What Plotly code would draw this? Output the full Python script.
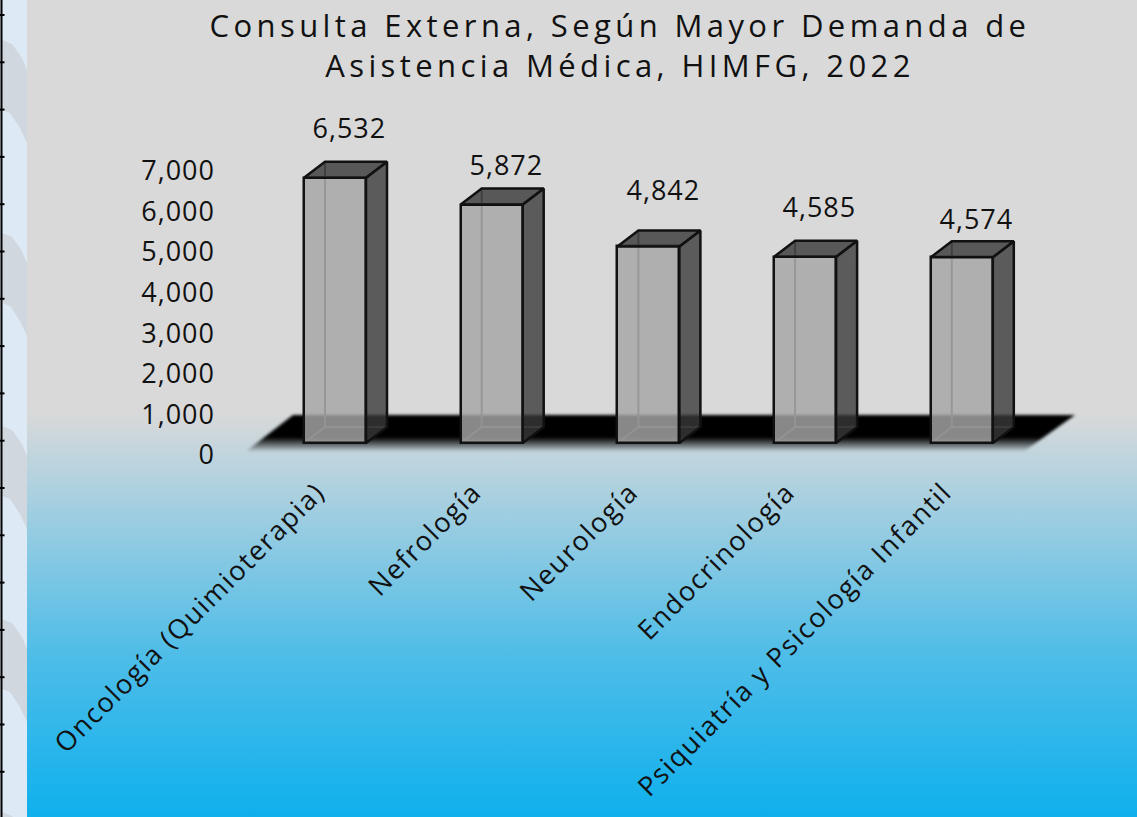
import base64
import plotly.graph_objects as go

# ---------------- data ----------------
categories = [
    "Oncología (Quimioterapia)",
    "Nefrología",
    "Neurología",
    "Endocrinología",
    "Psiquiatría y Psicología Infantil",
]
values = [6532, 5872, 4842, 4585, 4574]
y_ticks = [0, 1000, 2000, 3000, 4000, 5000, 6000, 7000]
title_text = "Consulta Externa, Según Mayor Demanda de<br>Asistencia Médica, HIMFG, 2022"

# ---------------- layout constants (pixels) ----------------
W, H = 1137, 817
FONT = "Open Sans"
PX_PER_X = 156.7          # pixels per category step
X0_PX = 335.0             # pixel centre of first category
PX_PER_Y = 40.6 / 1000    # pixels per unit of value
Y0_PX = 443.0             # pixel of value 0 (front face base)
DOM_X = (230, 1090)
DOM_Y = (100, 470)        # top, bottom in pixels

x_range = [(DOM_X[0] - X0_PX) / PX_PER_X, (DOM_X[1] - X0_PX) / PX_PER_X]
y_range = [(Y0_PX - DOM_Y[1]) / PX_PER_Y, (Y0_PX - DOM_Y[0]) / PX_PER_Y]

BAR_W = 62 / PX_PER_X     # front face width in x units
DX = 21 / PX_PER_X        # depth offset in x units
DY = 16 / PX_PER_Y        # depth offset in value units
label_yshift = [34, 24, 41, 34, 23]

positions = list(range(len(categories)))


def svg_uri(svg):
    return "data:image/svg+xml;base64," + base64.b64encode(svg.encode("utf-8")).decode("ascii")


# background gradient (chart area from x=27)
BG_X = 27
bg_svg = (
    f"<svg xmlns='http://www.w3.org/2000/svg' width='{W-BG_X}' height='{H}' viewBox='0 0 {W-BG_X} {H}' preserveAspectRatio='none'>"
    "<defs><linearGradient id='g' x1='0' y1='0' x2='0' y2='1'>"
    "<stop offset='0' stop-color='#d9d9d9'/>"
    "<stop offset='0.505' stop-color='#d9d9d9'/>"
    "<stop offset='0.565' stop-color='#bdd4de'/>"
    "<stop offset='0.80' stop-color='#4fbde8'/>"
    "<stop offset='1' stop-color='#0fb0ed'/>"
    "</linearGradient></defs>"
    f"<rect width='{W-BG_X}' height='{H}' fill='url(#g)'/></svg>"
)

# floor (dark slab under bars)
FL_X0, FL_Y0, FL_W, FL_H = 238, 409, 842, 50
floor_svg = (
    f"<svg xmlns='http://www.w3.org/2000/svg' width='{FL_W}' height='{FL_H}' viewBox='0 0 {FL_W} {FL_H}' preserveAspectRatio='none'>"
    "<defs><linearGradient id='f' x1='0' y1='0' x2='0' y2='1'>"
    "<stop offset='0' stop-color='#000' stop-opacity='1'/>"
    "<stop offset='0.6' stop-color='#000' stop-opacity='1'/>"
    "<stop offset='1' stop-color='#000' stop-opacity='0'/>"
    "</linearGradient>"
    "<filter id='b' x='-5%' y='-30%' width='110%' height='160%'><feGaussianBlur stdDeviation='1.6'/></filter></defs>"
    "<polygon points='55,6 837,6 785,43 7,43' fill='url(#f)' filter='url(#b)'/></svg>"
)

images = [
    dict(source=svg_uri(bg_svg), xref="paper", yref="paper", x=BG_X / W, y=1,
         sizex=(W - BG_X) / W, sizey=1, xanchor="left", yanchor="top",
         sizing="stretch", layer="below"),
    dict(source=svg_uri(floor_svg), xref="paper", yref="paper", x=FL_X0 / W, y=1 - FL_Y0 / H,
         sizex=FL_W / W, sizey=FL_H / H, xanchor="left", yanchor="top",
         sizing="stretch", layer="below"),
]

shapes = []
# left strip decoration (curved grey bands)
for k in range(5):
    o = 193 * k
    p = [(2, 40 + o), (12, 44 + o), (22, 58 + o), (27, 70 + o), (27, 143 + o),
         (20, 128 + o), (10, 113 + o), (2, 110 + o)]
    path = "M " + " L ".join(f"{x / W},{1 - y / H}" for x, y in p) + " Z"
    shapes.append(dict(type="path", path=path, xref="paper", yref="paper",
                       fillcolor="#d1d7de", line=dict(width=0), layer="below"))
shapes.append(dict(type="line", xref="paper", yref="paper", x0=1.5 / W, x1=1.5 / W, y0=0, y1=1,
                   line=dict(color="black", width=2), layer="below"))
yt = 15.0
while yt < H:
    shapes.append(dict(type="line", xref="paper", yref="paper", x0=0, x1=4.5 / W,
                       y0=1 - yt / H, y1=1 - yt / H, line=dict(color="black", width=2), layer="below"))
    yt += 47.3

# hidden (back) edges seen through the translucent front faces
edge = dict(color="rgba(70,70,70,0.9)", width=2)
for p, v in zip(positions, values):
    L, R = p - BAR_W / 2, p + BAR_W / 2
    shapes.append(dict(type="line", xref="x", yref="y", x0=L + DX, x1=L + DX, y0=DY, y1=v + DY, line=edge, layer="below"))
    shapes.append(dict(type="line", xref="x", yref="y", x0=L + DX, x1=R + DX, y0=DY, y1=DY, line=edge, layer="below"))
    shapes.append(dict(type="line", xref="x", yref="y", x0=L, x1=L + DX, y0=0, y1=DY, line=edge, layer="below"))

fig = go.Figure()

# front faces
fig.add_trace(go.Bar(
    x=positions, y=values, width=BAR_W, base=0,
    marker=dict(color="rgba(166,166,166,0.82)", line=dict(color="#111111", width=2.5)),
    hovertemplate="%{y:,}<extra></extra>", showlegend=False,
))

# side faces
sx, sy = [], []
for p, v in zip(positions, values):
    R = p + BAR_W / 2
    sx += [R, R + DX, R + DX, R, R, None]
    sy += [0, DY, v + DY, v, 0, None]
fig.add_trace(go.Scatter(x=sx, y=sy, mode="lines", fill="toself",
                         fillcolor="rgba(57,57,57,0.79)", line=dict(color="#111111", width=2.5),
                         hoverinfo="skip", showlegend=False))

# top faces
tx, ty = [], []
for p, v in zip(positions, values):
    L, R = p - BAR_W / 2, p + BAR_W / 2
    tx += [L, L + DX, R + DX, R, L, None]
    ty += [v, v + DY, v + DY, v, v, None]
fig.add_trace(go.Scatter(x=tx, y=ty, mode="lines", fill="toself",
                         fillcolor="rgba(60,60,60,0.82)", line=dict(color="#111111", width=2.5),
                         hoverinfo="skip", showlegend=False))

annotations = []
for p, v, ys in zip(positions, values, label_yshift):
    annotations.append(dict(x=p + DX * 0.7, y=v + DY, xref="x", yref="y", text=f"{v:,}",
                            showarrow=False, yanchor="middle", yshift=ys,
                            font=dict(family=FONT, size=27, color="#111111")))

fig.update_layout(
    width=W, height=H,
    margin=dict(l=0, r=0, t=0, b=0),
    paper_bgcolor="#dde9f4",
    plot_bgcolor="rgba(0,0,0,0)",
    title=dict(text=title_text, x=620 / W, xanchor="center", xref="paper",
               y=1 - 37 / H, yanchor="top", yref="paper",
               font=dict(family=FONT, size=31, color="#111111")),
    xaxis=dict(domain=[DOM_X[0] / W, DOM_X[1] / W], range=x_range,
               tickvals=positions, ticktext=categories, tickangle=-45,
               showgrid=False, zeroline=False, showline=False, ticks="",
               ticklabelshift=-18,
               tickfont=dict(family=FONT, size=27, color="#111111"), automargin=False),
    yaxis=dict(domain=[1 - DOM_Y[1] / H, 1 - DOM_Y[0] / H], range=y_range,
               tickvals=y_ticks, tickformat=",", showgrid=False, zeroline=False,
               showline=False, ticks="", ticklabelshift=12, ticklabelstandoff=14,
               tickfont=dict(family=FONT, size=27, color="#111111"), automargin=False),
    images=images,
    shapes=shapes,
    annotations=annotations,
    bargap=0,
)

post = """
document.documentElement.style.margin = '0';
document.body.style.margin = '0';
document.body.style.overflow = 'hidden';
var gd = document.getElementById('{plot_id}');
function ls(sel, v){ gd.querySelectorAll(sel).forEach(function(e){ e.style.letterSpacing = v; }); }
ls('.gtitle', '4.4px');
ls('.xtick text', '1.5px');
ls('.ytick text', '1px');
ls('.annotation-text', '1px');
"""
fig.write_html("out.html", post_script=post, config={"displayModeBar": False})
